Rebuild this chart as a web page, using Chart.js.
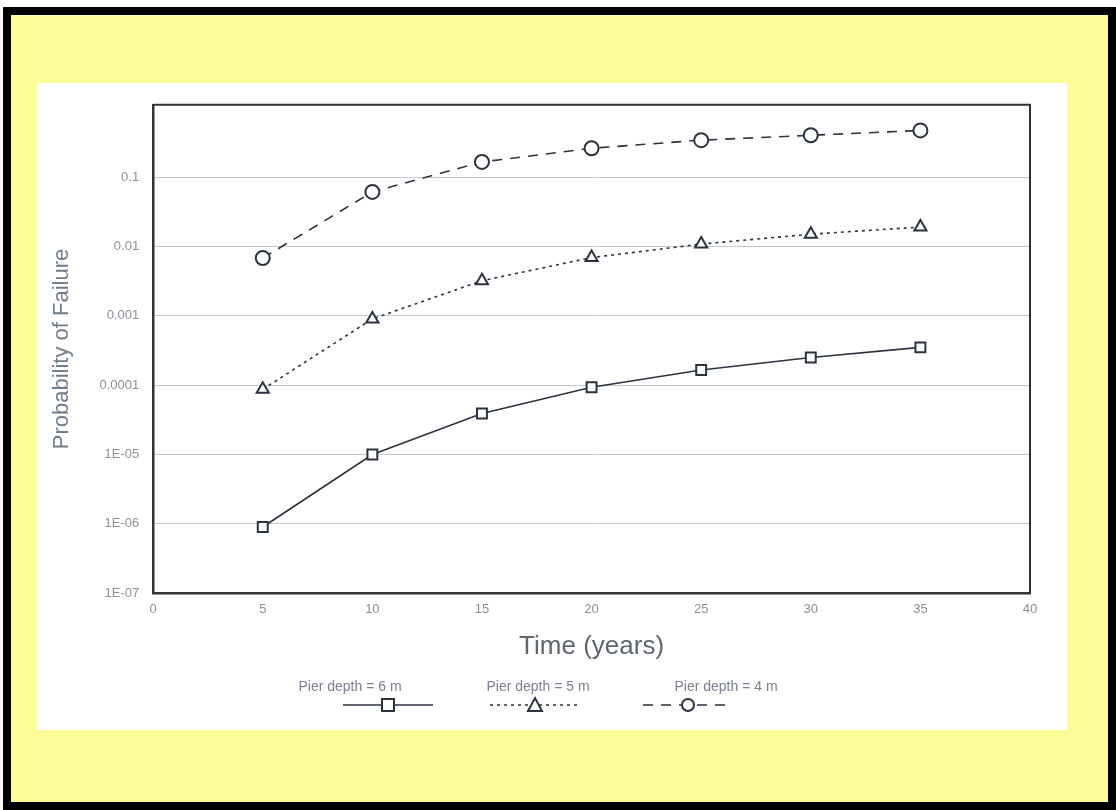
<!DOCTYPE html>
<html>
<head>
<meta charset="utf-8">
<script src="https://cdn.jsdelivr.net/npm/chart.js@4"></script>
<style>
  body { margin: 0; background: #fff; }
  #frame {
    position: absolute; left: 3px; top: 7px; width: 1097px; height: 787px;
    background: #fdfd98; border: 8px solid #000;
  }
  #panel {
    position: absolute; left: 37px; top: 83px; width: 1030px; height: 647px;
    background: #fff;
  }
</style>
</head>
<body>
<div id="frame"></div>
<div id="panel"><canvas id="pofChart" width="1030" height="647"></canvas></div>
<script>
// data
const years = [5, 10, 15, 20, 25, 30, 35];
const depth6m = [9e-7, 1e-5, 3.9e-5, 9.3e-5, 1.65e-4, 2.5e-4, 3.5e-4];
const depth5m = [8.7e-5, 9e-4, 3.2e-3, 6.9e-3, 0.0108, 0.015, 0.019];
const depth4m = [0.0068, 0.061, 0.165, 0.26, 0.34, 0.40, 0.47];
const yTickLabels = { '-7': '1E-07', '-6': '1E-06', '-5': '1E-05', '-4': '0.0001', '-3': '0.001', '-2': '0.01', '-1': '0.1' };
const seriesNames = ['Pier depth = 6 m', 'Pier depth = 5 m', 'Pier depth = 4 m'];

const lineColor = '#2b3340';

function toXY(vals) {
    return years.map((x, i) => ({ x: x, y: vals[i] }));
}

function makeSet(label, vals, style, dash) {
    return {
        label: label,
        data: toXY(vals),
        borderColor: lineColor,
        borderWidth: 1.6,
        borderDash: dash,
        pointStyle: style,
        pointRadius: 7,
        pointBorderWidth: 2,
        pointBackgroundColor: '#fff',
        pointBorderColor: lineColor,
        tension: 0
    };
}

// legend drawn under the axis title: text above a short line sample
const bottomLegend = {
    id: 'bottomLegend',
    afterDraw(chart) {
        const c = chart.ctx;
        const centers = [313, 501, 689];
        const markerShift = [38, -3, -38];
        c.save();
        chart.data.datasets.forEach((ds, i) => {
            const cx = centers[i];
            const mx = cx + markerShift[i];
            const ly = 622;
            c.font = '14px "Liberation Sans", Arial, sans-serif';
            c.fillStyle = '#7a8090';
            c.textAlign = 'center';
            c.textBaseline = 'middle';
            c.fillText(seriesNames[i], cx, 604);
            c.strokeStyle = lineColor;
            c.lineWidth = 1.3;
            c.setLineDash(ds.borderDash);
            c.beginPath();
            c.moveTo(mx - 45, ly);
            c.lineTo(mx + 45, ly);
            c.stroke();
            c.setLineDash([]);
            c.lineWidth = 2;
            c.fillStyle = '#fff';
            const r = 6;
            c.beginPath();
            if (ds.pointStyle === 'rect') {
                c.rect(mx - r, ly - r, 2 * r, 2 * r);
            } else if (ds.pointStyle === 'triangle') {
                c.moveTo(mx, ly - r - 1);
                c.lineTo(mx + r + 1, ly + r);
                c.lineTo(mx - r - 1, ly + r);
                c.closePath();
            } else {
                c.arc(mx, ly, r, 0, Math.PI * 2);
            }
            c.fill();
            c.stroke();
        });
        c.restore();
    }
};

const ctx = document.getElementById('pofChart').getContext('2d');
const pofChart = new Chart(ctx, {
    type: 'line',
    data: {
        datasets: [
            makeSet(seriesNames[0], depth6m, 'rect', []),
            makeSet(seriesNames[1], depth5m, 'triangle', [3, 4]),
            makeSet(seriesNames[2], depth4m, 'circle', [10, 8])
        ]
    },
    options: {
        responsive: false,
        animation: false,
        layout: { padding: { left: 8, top: 20, right: 37, bottom: 64 } },
        plugins: {
            legend: { display: false },
            tooltip: { enabled: false }
        },
        scales: {
            x: {
                type: 'linear',
                min: 0,
                max: 40,
                ticks: {
                    stepSize: 5,
                    color: '#8a8f99',
                    font: { size: 13, family: '"Liberation Sans", Arial, sans-serif' },
                    padding: 8
                },
                grid: { display: false, drawTicks: false },
                border: { color: '#333', width: 2.5 },
                title: {
                    display: true,
                    text: 'Time (years)',
                    color: '#5e6670',
                    font: { size: 26, family: '"Liberation Sans", Arial, sans-serif' },
                    padding: { top: 6 }
                }
            },
            y: {
                type: 'logarithmic',
                min: 1e-7,
                max: 1.1,
                afterBuildTicks(axis) {
                    axis.ticks = [-7, -6, -5, -4, -3, -2, -1].map(p => ({ value: Math.pow(10, p) }));
                },
                ticks: {
                    color: '#8a8f99',
                    font: { size: 13, family: '"Liberation Sans", Arial, sans-serif' },
                    padding: 14,
                    callback: function (v) {
                        const p = Math.round(Math.log10(v));
                        return yTickLabels[p] || '';
                    }
                },
                grid: { color: '#c4c8cc', lineWidth: 1, drawTicks: false },
                border: { color: '#333', width: 2.5 },
                title: {
                    display: true,
                    text: 'Probability of Failure',
                    color: '#6f7d8c',
                    font: { size: 22, family: '"Liberation Sans", Arial, sans-serif' },
                    padding: { bottom: 10 }
                }
            }
        }
    },
    plugins: [bottomLegend, {
        id: 'topRightBorder',
        afterDraw(chart) {
            const a = chart.chartArea;
            const c = chart.ctx;
            c.save();
            c.strokeStyle = '#333';
            c.lineWidth = 2;
            c.beginPath();
            c.moveTo(a.left, a.top);
            c.lineTo(a.right, a.top);
            c.lineTo(a.right, a.bottom);
            c.stroke();
            c.restore();
        }
    }]
});
</script>
</body>
</html>
